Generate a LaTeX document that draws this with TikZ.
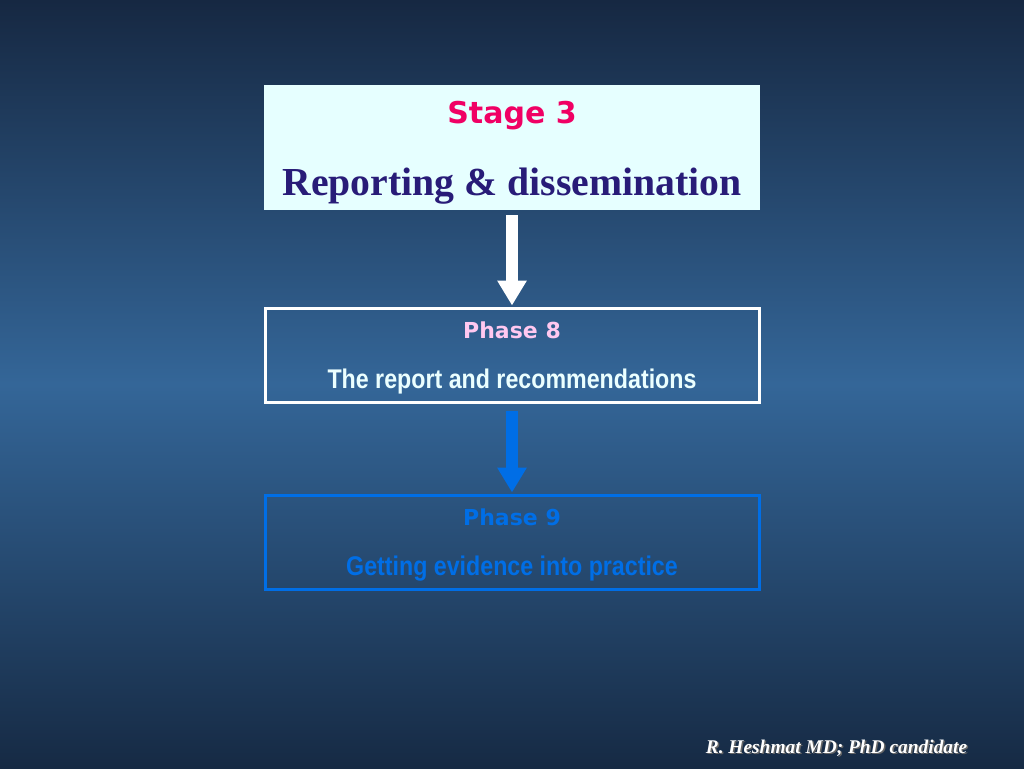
\documentclass[tikz,border=0pt]{standalone}
\usepackage{fontspec}
\usetikzlibrary{arrows.meta,positioning}
\newfontfamily\verdanaish{DejaVu Sans}
\newfontfamily\narrowsans[FakeStretch=0.86]{Liberation Sans}
\newfontfamily\timesish{Liberation Serif}
\definecolor{bgtop}{RGB}{22,40,66}
\definecolor{bgmid}{RGB}{52,102,152}
\definecolor{bgbot}{RGB}{22,42,68}
\definecolor{boxfill}{RGB}{230,255,255}
\definecolor{stagered}{RGB}{240,0,100}
\definecolor{indigo}{RGB}{40,28,120}
\definecolor{phasepink}{RGB}{255,200,240}
\definecolor{lightcyan}{RGB}{235,255,255}
\definecolor{phaseblue}{RGB}{0,110,230}
\tikzset{
  phasebox/.style={draw, line width=3pt, minimum width=494pt, minimum height=94pt, inner sep=0pt},
  bigarrow/.style={line width=12pt, -{Triangle[length=25pt,width=28pt]}},
  ttl/.style={font=\verdanaish\bfseries\fontsize{22}{26}\selectfont, inner sep=0pt, anchor=base},
  sub/.style={font=\narrowsans\bfseries\fontsize{27}{30}\selectfont, inner sep=0pt, anchor=base},
}
\begin{document}
\begin{tikzpicture}[x=1pt,y=-1pt]
\useasboundingbox (0,0) rectangle (1024,768);
\shade[top color=bgtop, bottom color=bgbot, middle color=bgmid] (0,0) rectangle (1024,768);
% top box
\node[fill=boxfill, minimum width=496pt, minimum height=125pt, inner sep=0pt] (stage) at (512,147.5) {};
\node[font=\verdanaish\bfseries\fontsize{30}{34}\selectfont, text=stagered, inner sep=0pt, anchor=base] (stagetitle) at (512,123) {Stage 3};
\node[font=\timesish\bfseries\fontsize{39.7}{42}\selectfont, text=indigo, inner sep=0pt, anchor=base] (stagesub) at (512,195) {Reporting \& dissemination};
% phase 8
\node[phasebox, draw=white] (p8) at (512,355) {};
\node[ttl, text=phasepink] (p8t) at (512,338) {Phase 8};
\node[sub, text=lightcyan] (p8s) at (512,388) {The report and recommendations};
% phase 9
\node[phasebox, draw=phaseblue] (p9) at (512,542) {};
\node[ttl, text=phaseblue] (p9t) at (512,525) {Phase 9};
\node[sub, text=phaseblue] (p9s) at (512,575) {Getting evidence into practice};
% arrows
\draw[bigarrow, white, shorten <=5pt, shorten >=1pt] (stage.south) -- (p8.north);
\draw[bigarrow, phaseblue, shorten <=7pt, shorten >=1pt] (p8.south) -- (p9.north);
% footer
\node[font=\timesish\itshape\bfseries\fontsize{19.4}{22}\selectfont, text=black!60, inner sep=0pt, anchor=base] (footshadow) at (838,754.5) {R. Heshmat MD; PhD candidate};
\node[font=\timesish\itshape\bfseries\fontsize{19.4}{22}\selectfont, text=white, inner sep=0pt, anchor=base] (footer) at (836.5,753) {R. Heshmat MD; PhD candidate};
\end{tikzpicture}
\end{document}
